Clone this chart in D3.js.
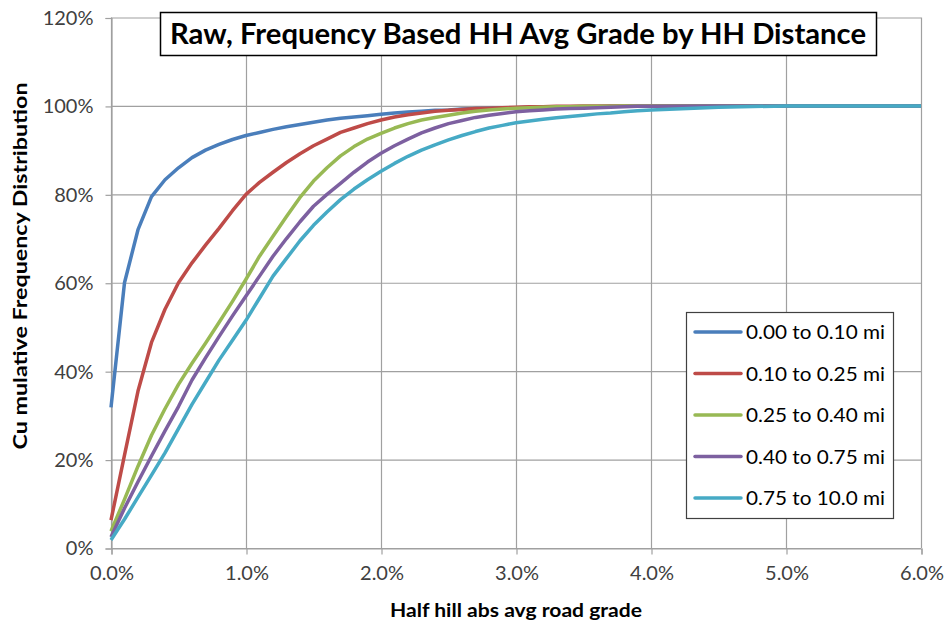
<!DOCTYPE html>
<html><head><meta charset="utf-8">
<script src="https://cdn.jsdelivr.net/npm/d3@7"></script>
<style>body{margin:0;background:#fff;} text{font-family:Lato,"Open Sans",sans-serif;}</style>
</head><body><svg id="c" width="946" height="626"></svg>
<script>
const grades = [0.0,0.1,0.2,0.3,0.4,0.5,0.6,0.7,0.8,0.9,1.0,1.1,1.2,1.3,1.4,1.5,1.6,1.7,1.8,1.9,2.0,2.1,2.2,2.3,2.4,2.5,2.6,2.7,2.8,2.9,3.0,3.1,3.2,3.3,3.4,3.5,3.6,3.7,3.8,3.9,4.0,4.5,5.0,5.5,6.0];
const seriesNames = ["0.00 to 0.10 mi","0.10 to 0.25 mi","0.25 to 0.40 mi","0.40 to 0.75 mi","0.75 to 10.0 mi"];
const s1 = [31.8,60,72,79.5,83.3,86,88.3,90,91.3,92.4,93.3,94,94.7,95.3,95.8,96.3,96.8,97.2,97.5,97.8,98.1,98.4,98.6,98.8,99,99.1,99.3,99.4,99.5,99.6,99.6,99.7,99.7,99.7,99.8,99.8,99.8,99.9,99.9,99.9,99.9,100,100,100,100];
const s2 = [6.3,21,35.5,46.5,54,60,64.5,68.5,72.3,76.3,80,82.7,85,87.2,89.2,91,92.5,94,95,96,96.8,97.5,98,98.4,98.8,99,99.2,99.4,99.5,99.6,99.7,99.8,99.8,99.9,99.9,100,100,100,100,100,100,100,100,100,100];
const s3 = [3.8,11,18.5,25.5,31.5,37,41.8,46.3,51,55.8,60.8,66,70.5,75,79.3,83,86,88.7,90.8,92.5,93.8,95,96,96.8,97.4,97.9,98.4,98.8,99.1,99.3,99.5,99.6,99.7,99.8,99.8,99.9,99.9,99.9,100,100,100,100,100,100,100];
const s4 = [2.5,9,15,20.8,26.5,32,38,43,47.8,52.5,57,61.5,66,70,73.8,77.3,80,82.5,85,87.3,89.3,91,92.5,93.9,95,96,96.7,97.4,97.9,98.3,98.7,98.9,99.1,99.3,99.4,99.5,99.6,99.7,99.8,99.9,99.9,100,100,100,100];
const s5 = [1.8,6.5,11.5,16.5,21.5,27,32.5,37.5,42.5,47,51.5,56.5,61.5,65.5,69.5,73,76,78.8,81.2,83.3,85.2,87,88.6,90,91.2,92.3,93.3,94.2,95,95.6,96.2,96.6,97,97.3,97.6,97.9,98.2,98.4,98.7,98.9,99.1,99.7,100,100,100];
const colors = ["#4a7ebb","#be4b48","#98b954","#7d60a0","#46aac5"];
const xTicks = [0,1,2,3,4,5,6];
const yTicks = [0,20,40,60,80,100,120];
const title = "Raw, Frequency Based HH Avg Grade by HH Distance";
const xTitle = "Half hill abs avg road grade";
const yTitle = "Cu mulative Frequency Distribution";

const allSeries = [s1,s2,s3,s4,s5];
const svg = d3.select("#c");
const L=111, R=921, T=17.5, B=548;
const x = d3.scaleLinear().domain([0,6]).range([L,R]);
const y = d3.scaleLinear().domain([0,120]).range([B,T]);
const grid = "#a0a0a0";

// gridlines
svg.append("g").selectAll("line").data(yTicks).join("line")
  .attr("x1",L).attr("x2",R).attr("y1",d=>y(d)+0.5).attr("y2",d=>y(d)+0.5)
  .attr("stroke",grid).attr("stroke-width",1.2);
svg.append("g").selectAll("line").data(xTicks).join("line")
  .attr("y1",T).attr("y2",B).attr("x1",d=>x(d)+0.5).attr("x2",d=>x(d)+0.5)
  .attr("stroke",grid).attr("stroke-width",1.2);

// axes
const yAxis = d3.axisLeft(y).tickValues(yTicks).tickFormat(d=>d+"%").tickSize(6).tickPadding(12);
const gy = svg.append("g").attr("transform",`translate(${L+0.5},0.5)`).call(yAxis);
const xAxis = d3.axisBottom(x).tickValues(xTicks).tickFormat(d=>d.toFixed(1)+"%").tickSize(6).tickPadding(11);
const gx = svg.append("g").attr("transform",`translate(0.5,${B+0.5})`).call(xAxis);
[gy,gx].forEach(g=>{
  g.selectAll(".domain").attr("stroke",grid).attr("stroke-width",1.2);
  g.selectAll(".tick line").attr("stroke",grid).attr("stroke-width",1.2);
  g.selectAll("text").attr("fill","#404040").style("font-size","20px").style("font-family","Lato,sans-serif");
});

// lines
const line = d3.line().x((d,i)=>x(grades[i])).y(d=>y(d));
svg.append("g").selectAll("path").data(allSeries).join("path")
  .attr("d",d=>line(d)).attr("fill","none")
  .attr("stroke",(d,i)=>colors[i]).attr("stroke-width",3.5)
  .attr("stroke-linejoin","round");

// title
const tg = svg.append("g");
tg.append("rect").attr("x",160.5).attr("y",12.5).attr("width",716).attr("height",43)
  .attr("fill","#fff").attr("stroke","#000").attr("stroke-width",1.5);
tg.append("text").attr("x",518).attr("y",44).attr("text-anchor","middle")
  .style("font-size","28px").style("font-weight","bold").attr("fill","#000")
  .attr("textLength",696).attr("lengthAdjust","spacingAndGlyphs").text(title);

// axis titles
svg.append("text").attr("x",516).attr("y",617).attr("text-anchor","middle")
  .style("font-size","18px").style("font-weight","bold").attr("fill","#000")
  .attr("textLength",252).attr("lengthAdjust","spacingAndGlyphs").text(xTitle);
svg.append("text").attr("transform","translate(27,266) rotate(-90)").attr("text-anchor","middle")
  .style("font-size","18px").style("font-weight","bold").attr("fill","#000")
  .attr("textLength",367).attr("lengthAdjust","spacingAndGlyphs").text(yTitle);

// legend
const lg = svg.append("g");
lg.append("rect").attr("x",686.5).attr("y",312.5).attr("width",207).attr("height",206)
  .attr("fill","#fff").attr("stroke","#404040").attr("stroke-width",1.2);
const ly = d3.scalePoint().domain(seriesNames).range([332,498]);
const items = lg.selectAll("g.it").data(seriesNames).join("g").attr("class","it")
  .attr("transform",d=>`translate(0,${ly(d)})`);
items.append("line").attr("x1",695).attr("x2",741).attr("y1",0).attr("y2",0)
  .attr("stroke",(d,i)=>colors[i]).attr("stroke-width",3.5).attr("stroke-linecap","round");
items.append("text").attr("x",746).attr("y",7).style("font-size","19px").attr("fill","#000")
  .attr("textLength",139).attr("lengthAdjust","spacingAndGlyphs").text(d=>d);
</script></body></html>
